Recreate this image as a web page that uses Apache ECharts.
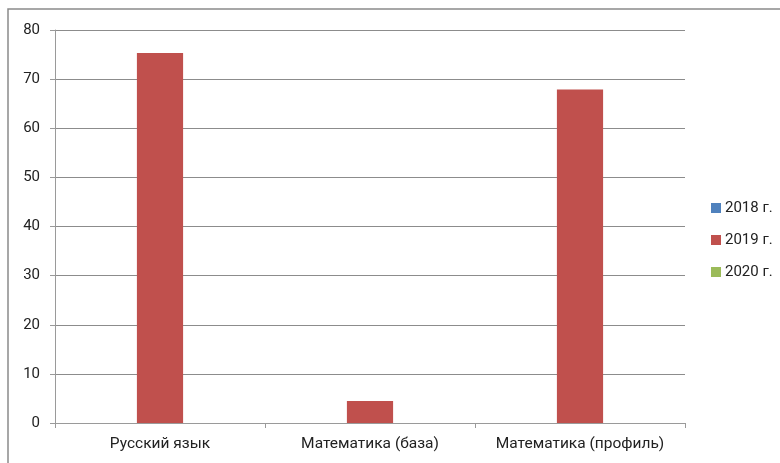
<!DOCTYPE html>
<html><head><meta charset="utf-8">
<script src="https://cdn.jsdelivr.net/npm/echarts@6/dist/echarts.min.js"></script>
<style>html,body{margin:0;padding:0;background:#fff}#c{width:780px;height:463px}</style>
</head><body><div id="c"></div>
<script>
const categories = ['Русский язык', 'Математика (база)', 'Математика (профиль)'];
const seriesNames = ['2018 г.', '2019 г.', '2020 г.'];
const values2018 = [0, 0, 0];
const values2019 = [75.3, 4.5, 67.9];
const values2020 = [0, 0, 0];
const yTicks = [0, 10, 20, 30, 40, 50, 60, 70, 80];
const colors = ['#4F81BD', '#C0504D', '#9BBB59'];

const chart = echarts.init(document.getElementById('c'), null, {renderer: 'canvas'});
const font = 'Roboto, sans-serif';
chart.setOption({
  animation: false,
  color: colors,
  graphic: [{type: 'rect', shape: {x: 8, y: 9, width: 900, height: 600}, style: {fill: 'none', stroke: '#8a8a8a', lineWidth: 1.5}, silent: true}],
  grid: {left: 55, right: 95, top: 30, bottom: 40, containLabel: false},
  legend: {
    orient: 'vertical', left: 706, top: 195, itemWidth: 10, itemHeight: 10, itemGap: 16,
    icon: 'rect', data: seriesNames,
    textStyle: {fontFamily: font, fontSize: 15, lineHeight: 16, color: '#222', padding: [0, 0, 0, -1]}
  },
  xAxis: {
    type: 'category', data: categories,
    axisLine: {lineStyle: {color: '#9a9a9a', width: 1}},
    axisTick: {show: true, length: 5, alignWithLabel: false, lineStyle: {color: '#9a9a9a'}},
    axisLabel: {fontFamily: font, fontSize: 15.5, color: '#222', margin: 13, interval: 0, hideOverlap: false}
  },
  yAxis: {
    type: 'value', min: yTicks[0], max: yTicks[yTicks.length - 1], interval: 10,
    axisLine: {show: true, lineStyle: {color: '#9a9a9a', width: 1}},
    axisTick: {show: true, length: 5, lineStyle: {color: '#9a9a9a'}},
    splitLine: {lineStyle: {color: '#8c8c8c', width: 1}},
    axisLabel: {fontFamily: font, fontSize: 15, color: '#222', margin: 15}
  },
  series: [
    {name: seriesNames[0], type: 'bar', data: values2018, barGap: '0%', barCategoryGap: '34%'},
    {name: seriesNames[1], type: 'bar', data: values2019, barGap: '0%', barCategoryGap: '34%'},
    {name: seriesNames[2], type: 'bar', data: values2020, barGap: '0%', barCategoryGap: '34%'}
  ]
});
</script></body></html>
